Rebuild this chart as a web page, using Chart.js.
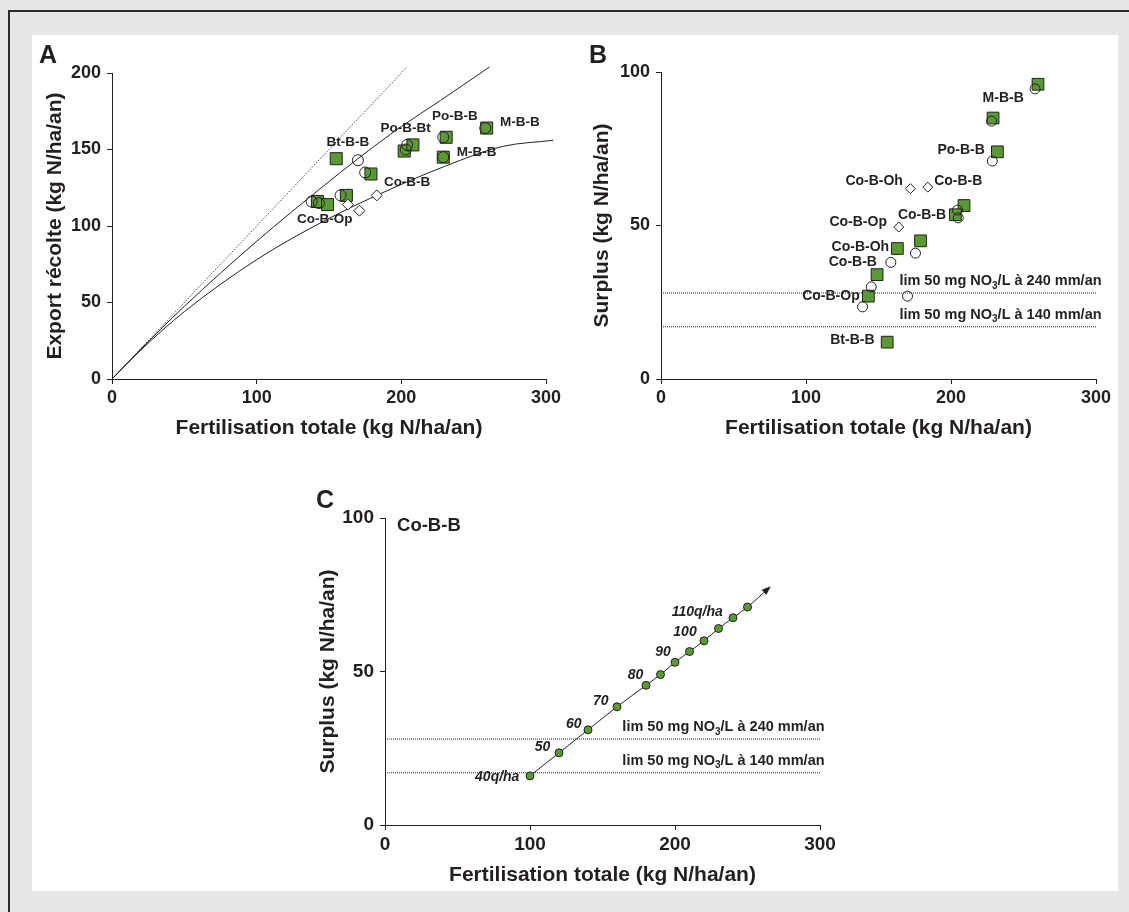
<!DOCTYPE html>
<html>
<head>
<meta charset="utf-8">
<script src="https://cdn.jsdelivr.net/npm/chart.js@4"></script>
<style>
  body { margin:0; width:1129px; height:912px; background:#e6e7e8; position:relative; overflow:hidden; font-family:'Liberation Sans', Arial, sans-serif; }
  #frame { position:absolute; left:8px; top:10px; right:0; bottom:0; border-left:2px solid #2b2b2b; border-top:2px solid #2b2b2b; }
  #inner { position:absolute; left:32px; top:35px; width:1086px; height:856px; background:#fff; }
  canvas { position:absolute; }
  .letter { position:absolute; font-weight:bold; font-size:25px; color:#231f20; line-height:1; }
</style>
</head>
<body>
<div id="frame"></div>
<div id="inner"></div>
<canvas id="chartA" width="560" height="420" style="left:32px;top:35px"></canvas>
<canvas id="chartB" width="545" height="420" style="left:580px;top:35px"></canvas>
<canvas id="chartC" width="560" height="410" style="left:300px;top:480px"></canvas>
<div class="letter" style="left:39px;top:42px">A</div>
<div class="letter" style="left:589px;top:42px">B</div>
<div class="letter" style="left:316px;top:487px">C</div>
<script>
const INK = '#231f20';
const GREEN = '#5a9a32';
const FONT = "'Liberation Sans', Arial, sans-serif";

// A : export récolte vs fertilisation
const circlesA = [[138,116],[143,115],[158,120],[170,143],[175,135],[203,150],[204,153],[229,158],[229,145],[258,164]];
const squaresA = [[155,144],[142,116],[149,114],[162,120],[179,134],[202,149],[208,153],[231,158],[229,145],[259,164]];
const diamondsA = [[163,114],[171,110],[183,120]];
const oneToOneA = [[0,0],[204,204]];
const curveHighA = [[0,0],[20,19.6],[50,47.5],[100,90],[146,126],[170,144],[200,165],[227,182],[261,204]];
const curveLowA = [[0,0],[20,19],[50,44],[100,78],[148,104],[183,120],[230,139],[270,152],[305,156]];
const labelsA = [['Bt-B-B',163,155],['Po-B-Bt',203,164],['Po-B-B',237,171.5],['M-B-B',282,167.5],
  ['M-B-B',252,148.5],['Co-B-B',204,128.5],['Co-B-Op',147,104.5]];

// B : surplus vs fertilisation
const squaresB = [[260,96],[229,85],[232,74],[209,56.5],[203,53.5],[179,45],[163,42.5],[149,34],[143,27],[156,12]];
const circlesB = [[258,94.5],[228,84],[228.5,71],[204.5,55],[205,52.5],[175.5,41],[158.5,38],[145,30],[170,27],[139,23.5]];
const diamondsB = [[172,62],[184,62.5],[164,49.5]];
const labelsB = [['M-B-B',236,91.5],['Po-B-B',207,74.5],['Co-B-Oh',147,64.3],['Co-B-B',205,64.3],
  ['Co-B-B',180,53.4],['Co-B-Op',136,51.2],['Co-B-Oh',137.5,43.1],['Co-B-B',132.3,38.2],
  ['Co-B-Op',117.2,27],['Bt-B-B',132,12.5]];

// seuils nitrates (surplus)
const limitMm = ['240','140'];
const limitSurplus = [28,17];

// C : Co-B-B, rendements 40 à 110 q/ha
const fertC = [100,120,140,160,180,190,200,210,220,230,240,250];
const surplusC = [16,23.5,31,38.5,45.5,49,53,56.5,60,64,67.5,71];
const arrowEndC = [265,77.3];
const yieldLabelsC = [['40q/ha',77.4,15.7],['50',108.6,25.5],['60',130.2,32.8],['70',148.8,40.5],
  ['80',172.7,48.9],['90',191.7,56.2],['100',206.9,62.7],['110q/ha',215.3,69.4]];

const pts = a => a.map(([x, y]) => ({x, y}));

function drawLim(ctx, x, y, mm) {
  const big = 'bold 14.5px ' + FONT, small = 'bold 10px ' + FONT;
  ctx.textAlign = 'left';
  ctx.font = big;
  let t = 'lim 50 mg NO';
  ctx.fillText(t, x, y);
  x += ctx.measureText(t).width;
  ctx.font = small;
  ctx.fillText('3', x, y + 5);
  x += ctx.measureText('3').width;
  ctx.font = big;
  ctx.fillText('/L à ' + mm + ' mm/an', x, y);
}

const annotate = {
  id: 'annotate',
  afterDatasetsDraw(chart, args, opts) {
    const {ctx, scales: {x, y}} = chart;
    ctx.save();
    ctx.fillStyle = INK;
    ctx.strokeStyle = INK;
    ctx.textBaseline = 'middle';
    (opts.items || []).forEach(([text, vx, vy]) => {
      ctx.font = opts.font;
      ctx.textAlign = opts.align || 'center';
      ctx.fillText(text, x.getPixelForValue(vx), y.getPixelForValue(vy));
    });
    if (opts.limits) {
      opts.limits.forEach((mm, i) => drawLim(ctx, x.getPixelForValue(opts.limitX), y.getPixelForValue(limitSurplus[i] + 4), mm));
    }
    if (opts.arrow !== undefined) {
      const data = chart.getDatasetMeta(opts.arrow).data;
      const p1 = data[data.length - 2], p2 = data[data.length - 1];
      const ang = Math.atan2(p2.y - p1.y, p2.x - p1.x);
      ctx.translate(p2.x, p2.y);
      ctx.rotate(ang);
      ctx.beginPath();
      ctx.moveTo(2, 0);
      ctx.lineTo(-7, -3.5);
      ctx.lineTo(-7, 3.5);
      ctx.closePath();
      ctx.fill();
    }
    ctx.restore();
  }
};

function scales(yMax, yTitle, yW, xH, tickSize) {
  const common = {
    type: 'linear',
    border: {color: INK, width: 1},
    grid: {drawOnChartArea: false, color: INK, tickLength: 5},
  };
  return {
    x: Object.assign({}, common, {
      min: 0, max: 300,
      afterFit: s => { s.height = xH; },
      ticks: {stepSize: 100, padding: 3, color: INK, font: {size: tickSize, weight: 'bold'}},
      title: {display: true, text: 'Fertilisation totale (kg N/ha/an)', color: INK, padding: 0,
        font: {size: 21, weight: 'bold', lineHeight: 1.2}}
    }),
    y: Object.assign({}, common, {
      min: 0, max: yMax,
      afterFit: s => { s.width = yW; },
      ticks: {stepSize: 50, padding: 6, color: INK, font: {size: tickSize, weight: 'bold'}},
      title: {display: true, text: yTitle, color: INK, padding: 0,
        font: {size: 21, weight: 'bold', lineHeight: 1.2}}
    })
  };
}

const baseOptions = {
  responsive: false,
  animation: false,
  events: [],
  plugins: {legend: {display: false}, tooltip: {enabled: false}}
};

Chart.defaults.font.family = FONT;
Chart.defaults.color = INK;

function lineSet(data, dash) {
  return {data: pts(data), showLine: true, borderColor: INK, borderWidth: 1, borderDash: dash || [],
    pointRadius: 0, fill: false, tension: 0.35, cubicInterpolationMode: 'monotone', clip: false};
}
function markerSet(data, style, r, fill) {
  return {data: pts(data), pointStyle: style, pointRadius: r, backgroundColor: fill,
    borderColor: INK, pointBorderWidth: 1, showLine: false};
}

new Chart(document.getElementById('chartA'), {
  type: 'scatter',
  data: {datasets: [
    markerSet(diamondsA, 'rectRot', 5.5, '#fff'),
    markerSet(circlesA, 'circle', 5.5, 'rgba(0,0,0,0)'),
    markerSet(squaresA, 'rect', 8.5, GREEN),
    lineSet(curveHighA),
    lineSet(curveLowA),
    lineSet(oneToOneA, [1, 1.5])
  ]},
  options: Object.assign({}, baseOptions, {
    layout: {padding: {left: 11, top: 38, right: 46, bottom: 14}},
    scales: scales(200, 'Export récolte (kg N/ha/an)', 69, 62, 18),
    plugins: Object.assign({}, baseOptions.plugins, {
      annotate: {items: labelsA, font: 'bold 13.5px ' + FONT}
    })
  }),
  plugins: [annotate]
});

new Chart(document.getElementById('chartB'), {
  type: 'scatter',
  data: {datasets: [
    markerSet(diamondsB, 'rectRot', 5, '#fff'),
    markerSet(circlesB, 'circle', 5, 'rgba(0,0,0,0)'),
    markerSet(squaresB, 'rect', 8.3, GREEN),
    lineSet([[0, limitSurplus[0]], [300, limitSurplus[0]]], [1, 1]),
    lineSet([[0, limitSurplus[1]], [300, limitSurplus[1]]], [1, 1])
  ]},
  options: Object.assign({}, baseOptions, {
    layout: {padding: {left: 10, top: 37, right: 29, bottom: 14}},
    scales: scales(100, 'Surplus (kg N/ha/an)', 71, 62, 18),
    plugins: Object.assign({}, baseOptions.plugins, {
      annotate: {items: labelsB, font: 'bold 14px ' + FONT, limits: limitMm, limitX: 164.4}
    })
  }),
  plugins: [annotate]
});

new Chart(document.getElementById('chartC'), {
  type: 'scatter',
  data: {datasets: [
    markerSet(fertC.map((f, i) => [f, surplusC[i]]), 'circle', 4, GREEN),
    lineSet(fertC.map((f, i) => [f, surplusC[i]]).concat([arrowEndC])),
    lineSet([[0, limitSurplus[0]], [300, limitSurplus[0]]], [1, 1]),
    lineSet([[0, limitSurplus[1]], [300, limitSurplus[1]]], [1, 1])
  ]},
  options: Object.assign({}, baseOptions, {
    layout: {padding: {left: 16, top: 38, right: 40, bottom: 2}},
    scales: scales(100, 'Surplus (kg N/ha/an)', 69, 63, 19),
    plugins: Object.assign({}, baseOptions.plugins, {
      annotate: {items: yieldLabelsC, font: 'italic bold 14px ' + FONT, limits: limitMm, limitX: 163.7, arrow: 1}
    })
  }),
  plugins: [annotate, {
    id: 'caseLabel',
    afterDatasetsDraw(chart) {
      const {ctx, scales: {x, y}} = chart;
      ctx.save();
      ctx.fillStyle = INK;
      ctx.font = 'bold 18.5px ' + FONT;
      ctx.textAlign = 'left';
      ctx.textBaseline = 'middle';
      ctx.fillText('Co-B-B', x.getPixelForValue(8.3), y.getPixelForValue(97.3));
      ctx.restore();
    }
  }]
});
</script>
</body>
</html>
